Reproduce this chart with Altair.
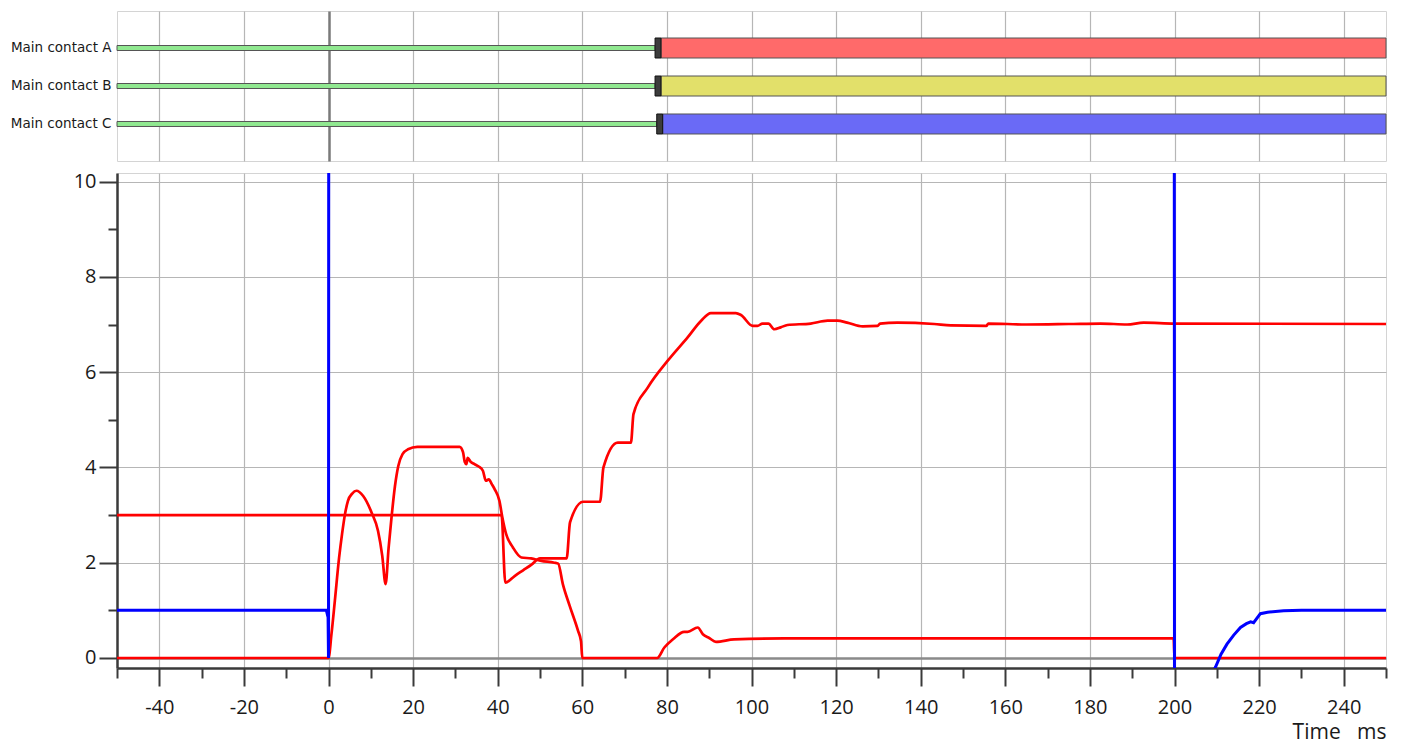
import altair as alt
import pandas as pd

# ---------------- data ----------------
contacts = ["Main contact A", "Main contact B", "Main contact C"]
closed_end = [77.2, 77.2, 77.6]     # end of the closed (green) state, ms
open_start = [78.6, 78.6, 79.0]     # start of the open state, ms
open_fill = ["#ff6a6a", "#e2e06a", "#6a6af6"]
t_start = -50
t_end = 250

# red trace 1
red1_t = [-50, 0, 0.7, 1.5, 2.5, 3.2, 3.9, 4.6, 5.6, 6.6, 8.2, 10.2, 11.7, 12.7, 13.5,
          14.2, 14.9, 15.7, 16.5, 17.5, 18.8, 21.0, 31.0, 31.8, 32.2, 32.6, 32.9, 33.6,
          34.5, 35.5, 36.5, 37.2, 37.9, 38.6, 39.3, 40.4, 41.1, 42.0, 43.6, 45.6, 47.9,
          50.3, 53.4, 54.3, 55.4, 57.0, 59.0, 59.7, 60.0, 77.7, 79.4, 81.5, 84.1, 84.9,
          87.3, 88.5, 90.0, 91.6, 95.9, 107.7, 199.8, 200.0, 250.0]
red1_v = [0.0, 0.0, 0.5, 1.2, 2.1, 2.6, 3.02, 3.3, 3.45, 3.51, 3.4, 3.05, 2.67, 2.15, 1.55,
          2.3, 2.95, 3.6, 4.03, 4.28, 4.38, 4.43, 4.43, 4.32, 4.12, 4.07, 4.2, 4.12,
          4.07, 4.02, 3.93, 3.72, 3.75, 3.65, 3.54, 3.3, 2.95, 2.6, 2.32, 2.11, 2.09,
          2.04, 2.0, 1.98, 1.55, 1.1, 0.57, 0.35, 0.0, 0.0, 0.22, 0.4, 0.55, 0.55,
          0.64, 0.5, 0.42, 0.34, 0.39, 0.41, 0.41, 0.0, 0.0]

# red trace 2
red2_t = [-50, 40.9, 41.8, 44.0, 46.0, 48.0, 50.0, 56.3, 57.1, 60.2, 64.2, 65.0, 68.4,
          71.5, 72.1, 75.5, 80.2, 84.9, 88.1, 90.4, 96.3, 97.5, 100.3, 101.4, 102.6,
          104.0, 105.4, 106.9, 108.5, 114.0, 118.0, 120.3, 122.6, 126.3, 129.8, 130.4,
          134.5, 143.2, 147.1, 155.5, 156.0, 165.0, 175.0, 182.5, 188.8, 192.7, 200.0, 250.0]
red2_v = [3.0, 3.0, 1.58, 1.72, 1.84, 1.96, 2.09, 2.09, 2.85, 3.28, 3.28, 4.0, 4.52,
          4.52, 5.12, 5.68, 6.24, 6.73, 7.08, 7.24, 7.24, 7.2, 6.97, 6.97, 7.02,
          7.02, 6.9, 6.94, 6.99, 7.02, 7.08, 7.08, 7.04, 6.96, 6.97, 7.02,
          7.04, 7.01, 6.98, 6.97, 7.02, 7.0, 7.01, 7.02, 7.0, 7.04, 7.02, 7.01]

# blue trace (goes off scale between 0 and 200 ms)
blue_t = [-50, -0.5, -0.1, 0.0, 0.05, 199.95, 200.0, 209.0, 209.7, 211.0, 212.4, 214.0,
          215.6, 217.0, 218.0, 218.7, 220.3, 222.0, 225.8, 230.0, 240.0, 250.0]
blue_v = [1.0, 1.0, 0.85, 0.0, 11.0, 11.0, -1.0, -0.3, -0.19, 0.08, 0.29, 0.48,
          0.64, 0.72, 0.76, 0.74, 0.93, 0.96, 0.99, 1.0, 1.0, 1.0]

x_ticks = [-50, -40, -30, -20, -10, 0, 10, 20, 30, 40, 50, 60, 70, 80, 90, 100, 110,
           120, 130, 140, 150, 160, 170, 180, 190, 200, 210, 220, 230, 240, 250]
x_grid = [-40, -20, 0, 20, 40, 60, 80, 100, 120, 140, 160, 180, 200, 220, 240]
y_ticks = [0, 1, 2, 3, 4, 5, 6, 7, 8, 9, 10]

# ---------------- style ----------------
FONT = "Open Sans"
AXIS_DARK = "#3a3a3a"
GRID = "#b6b6b6"
W = 1269

x_scale = alt.Scale(domain=[t_start, t_end], nice=False, zero=False)
y_scale = alt.Scale(domain=[-0.21, 10.18], nice=False, zero=False)

# ---------------- top panel ----------------
cdf = pd.DataFrame({
    "contact": contacts,
    "start": [t_start] * len(contacts),
    "closed_end": closed_end,
    "open_start": open_start,
    "end": [t_end] * len(contacts),
})

y_top = alt.Y(
    "contact:N", sort=contacts,
    scale=alt.Scale(paddingInner=0, paddingOuter=0.4737),
    axis=alt.Axis(title=None, ticks=False, domain=False, labelFont="DejaVu Sans",
                  labelFontSize=13.5, labelColor="#1a1a1a", labelPadding=6,
                  minExtent=108, maxExtent=108, labelLimit=0),
)
x_top_axis = alt.Axis(
    title=None, values=x_grid, labels=False, ticks=False, domain=False, grid=True,
    gridColor={"condition": {"test": "datum.value == 0", "value": "#7a7a7a"}, "value": GRID},
    gridWidth={"condition": {"test": "datum.value == 0", "value": 2.5}, "value": 1.2},
)

closed_bars = alt.Chart(cdf).mark_bar(size=5, fill="#90e890", stroke="#555555", strokeWidth=1).encode(
    y=y_top,
    x=alt.X("start:Q", scale=x_scale, axis=x_top_axis),
    x2="closed_end:Q",
)
open_bars = alt.Chart(cdf).mark_bar(size=20, stroke="#555555", strokeWidth=1).encode(
    y=alt.Y("contact:N", sort=contacts),
    x=alt.X("open_start:Q", scale=x_scale),
    x2="end:Q",
    fill=alt.Fill("contact:N", scale=alt.Scale(domain=contacts, range=open_fill), legend=None),
)
switch_bars = alt.Chart(cdf).mark_bar(size=20, fill="#3c3c3c", stroke="#111111", strokeWidth=1).encode(
    y=alt.Y("contact:N", sort=contacts),
    x=alt.X("closed_end:Q", scale=x_scale),
    x2="open_start:Q",
)
top = alt.layer(closed_bars, open_bars, switch_bars).properties(width=W, height=150)

# ---------------- bottom panel ----------------
def trace_df(ts, vs, name):
    return pd.DataFrame({"t": ts, "v": vs, "trace": [name] * len(ts), "i": list(range(len(ts)))})

red_df = pd.concat([trace_df(red1_t, red1_v, "red 1"), trace_df(red2_t, red2_v, "red 2")])
blue_df = trace_df(blue_t, blue_v, "blue")

x_bot_axis = alt.Axis(
    title="Time\u00a0\u00a0\u00a0ms", values=x_ticks,
    labelExpr="datum.value % 20 == 0 ? toString(datum.value) : ''",
    labelFont=FONT, labelFontSize=20, labelColor="#1a1a1a", labelPadding=11,
    labelFlush=False, labelOverlap=False,
    tickSize={"condition": {"test": "datum.value % 20 != 0", "value": 10}, "value": 18},
    tickColor=AXIS_DARK, tickWidth=2,
    domainColor=AXIS_DARK, domainWidth=2.5,
    grid=True, gridColor=GRID, gridWidth=1.2,
    gridOpacity={"condition": {"test": "datum.value % 20 != 0", "value": 0}, "value": 1},
    titleFont=FONT, titleFontSize=21, titleFontWeight="normal", titleColor="#1a1a1a",
    titleX=W, titleY=70.5, titleAlign="right", titleBaseline="alphabetic",
)
y_bot_axis = alt.Axis(
    title=None, values=y_ticks,
    labelExpr="datum.value % 2 == 0 ? toString(datum.value) : ''",
    labelFont=FONT, labelFontSize=20, labelColor="#1a1a1a", labelPadding=3,
    labelOverlap=False, minExtent=108, maxExtent=108,
    tickSize={"condition": {"test": "datum.value % 2 != 0", "value": 9}, "value": 18},
    tickColor=AXIS_DARK, tickWidth=2,
    domainColor=AXIS_DARK, domainWidth=2.5,
    grid=True,
    gridColor={"condition": {"test": "datum.value == 0", "value": "#8a8a8a"}, "value": GRID},
    gridWidth={"condition": {"test": "datum.value == 0", "value": 2.5}, "value": 1.2},
    gridOpacity={"condition": {"test": "datum.value % 2 != 0", "value": 0}, "value": 1},
)

red_lines = alt.Chart(red_df).mark_line(color="#ff0000", strokeWidth=2.7, clip=True,
                                         interpolate="monotone").encode(
    x=alt.X("t:Q", scale=x_scale, axis=x_bot_axis),
    y=alt.Y("v:Q", scale=y_scale, axis=y_bot_axis),
    detail="trace:N",
    order="i:Q",
)
blue_line = alt.Chart(blue_df).mark_line(color="#0000ff", strokeWidth=3, clip=True).encode(
    x=alt.X("t:Q", scale=x_scale),
    y=alt.Y("v:Q", scale=y_scale),
    order="i:Q",
)
bottom = alt.layer(red_lines, blue_line).properties(width=W, height=495)

chart = alt.vconcat(top, bottom, spacing=12, bounds="flush").properties(
    padding={"left": 0, "top": 2, "right": 2, "bottom": 6},
    background="white",
).configure_view(stroke="#d4d4d4", strokeWidth=1)

chart.save("out.html", embed_options={"renderer": "svg", "actions": False})
